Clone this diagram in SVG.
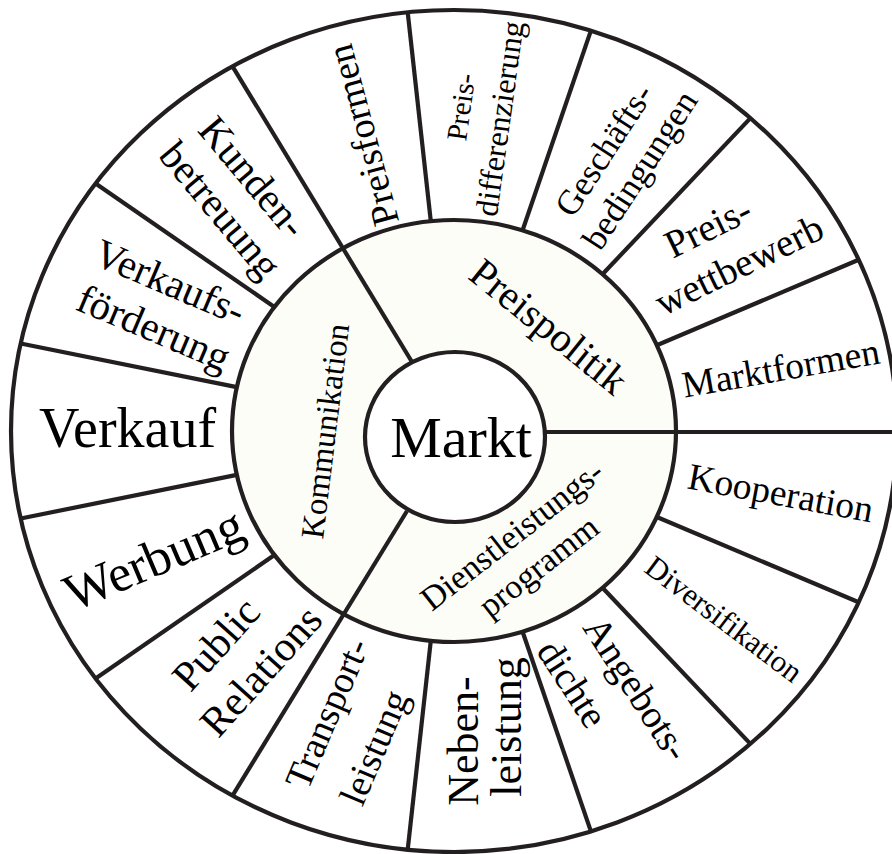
<svg xmlns="http://www.w3.org/2000/svg" width="892" height="854" viewBox="0 0 892 854">
<style>
.ln{stroke:#231f20;stroke-width:4.2;fill:none;stroke-linecap:butt}
.rg{stroke:#231f20;stroke-width:4.2}
text{font-family:"Liberation Serif","Times New Roman",serif;fill:#000;text-anchor:middle}
</style>
<rect width="892" height="854" fill="#fff"/>
<g id="wheel">
<ellipse class="rg" cx="454" cy="431" rx="443" ry="421" fill="#fff"/>
<ellipse class="rg" cx="454" cy="431" rx="222" ry="211" fill="#fdfdf8"/>
<ellipse class="rg" cx="455" cy="437" rx="90" ry="85" fill="#fff"/>
</g>
<g id="dividers">
<line class="ln" x1="545" y1="432" x2="892" y2="432"/>
<line class="ln" x1="412" y1="362" x2="232.5" y2="66.4"/>
<line class="ln" x1="407" y1="511" x2="232.5" y2="795.6"/>
<line class="ln" x1="656.8" y1="517" x2="858.7" y2="602.2"/>
<line class="ln" x1="602.5" y1="587.8" x2="750.4" y2="743.9"/>
<line class="ln" x1="522.6" y1="631.7" x2="590.9" y2="831.4"/>
<line class="ln" x1="430.8" y1="640.8" x2="407.7" y2="849.7"/>
<line class="ln" x1="274.4" y1="555" x2="95.6" y2="678.5"/>
<line class="ln" x1="236.8" y1="474.9" x2="20.7" y2="518.5"/>
<line class="ln" x1="236.8" y1="387.1" x2="20.7" y2="343.5"/>
<line class="ln" x1="274.4" y1="307" x2="95.6" y2="183.5"/>
<line class="ln" x1="430.8" y1="221.2" x2="407.7" y2="12.3"/>
<line class="ln" x1="522.6" y1="230.3" x2="590.9" y2="30.6"/>
<line class="ln" x1="602.5" y1="274.2" x2="750.4" y2="118.1"/>
<line class="ln" x1="656.8" y1="345.2" x2="858.7" y2="259.8"/>
</g>
<g id="markt"><text x="461" y="457" font-size="58">Markt</text></g>
<g id="preispolitik"><text transform="translate(546,330) rotate(39)" y="9.2" font-size="41">Preispolitik</text></g>
<g id="kommunikation"><text transform="translate(325,431) rotate(-83)" y="11.2" font-size="33">Kommunikation</text></g>
<g id="dienstleistungsprogramm">
<text transform="translate(514,538) rotate(-38)" y="7.7" font-size="34">Dienstleistungs-</text>
<text transform="translate(543,572) rotate(-38)" y="4" font-size="34">programm</text>
</g>
<g id="marktformen"><text transform="translate(783,380.5) rotate(-10)" font-size="37.5">Marktformen</text></g>
<g id="preiswettbewerb">
<text transform="translate(708,227) rotate(-26)" y="13" font-size="39">Preis-</text>
<text transform="translate(739,265) rotate(-26)" y="13" font-size="39">wettbewerb</text>
</g>
<g id="geschaeftsbedingungen">
<text transform="translate(604,150) rotate(-57)" y="11.6" font-size="35">Geschäfts-</text>
<text transform="translate(643,172) rotate(-57)" y="7.8" font-size="35">bedingungen</text>
</g>
<g id="preisdifferenzierung">
<text transform="translate(461,107) rotate(-82)" y="9.8" font-size="29">Preis-</text>
<text transform="translate(503,119) rotate(-82)" y="7.4" font-size="32">differenzierung</text>
</g>
<g id="preisformen"><text transform="translate(363,135) rotate(-105)" y="12.6" font-size="38">Preisformen</text></g>
<g id="kundenbetreuung">
<text transform="translate(253,177) rotate(50)" y="13.6" font-size="41">Kunden-</text>
<text transform="translate(217,213) rotate(50)" y="9.2" font-size="41">betreuung</text>
</g>
<g id="verkaufsfoerderung">
<text transform="translate(170,282) rotate(23)" y="13.6" font-size="41">Verkaufs-</text>
<text transform="translate(152,332) rotate(23)" y="9.2" font-size="41">förderung</text>
</g>
<g id="verkauf"><text x="127.5" y="447" font-size="56">Verkauf</text></g>
<g id="werbung"><text transform="translate(155,562) rotate(-23)" y="14" font-size="52">Werbung</text></g>
<g id="publicrelations">
<text transform="translate(216,644) rotate(-48)" y="14" font-size="42">Public</text>
<text transform="translate(261,671) rotate(-48)" y="14" font-size="42">Relations</text>
</g>
<g id="transportleistung">
<text transform="translate(331,715) rotate(-67)" y="8.5" font-size="38">Transport-</text>
<text transform="translate(378,749) rotate(-67)" y="8.5" font-size="38">leistung</text>
</g>
<g id="nebenleistung">
<text transform="translate(463,741) rotate(-90)" y="15" font-size="44">Neben-</text>
<text transform="translate(511,727) rotate(-90)" y="10" font-size="44">leistung</text>
</g>
<g id="angebotsdichte">
<text transform="translate(633,691) rotate(57)" y="8.5" font-size="39">Angebots-</text>
<text transform="translate(572,684) rotate(57)" y="12.6" font-size="39">dichte</text>
</g>
<g id="diversifikation"><text transform="translate(724,619) rotate(37)" y="10.5" font-size="31">Diversifikation</text></g>
<g id="kooperation"><text transform="translate(780,497) rotate(10.5)" y="8.5" font-size="37.5">Kooperation</text></g>
</svg>
